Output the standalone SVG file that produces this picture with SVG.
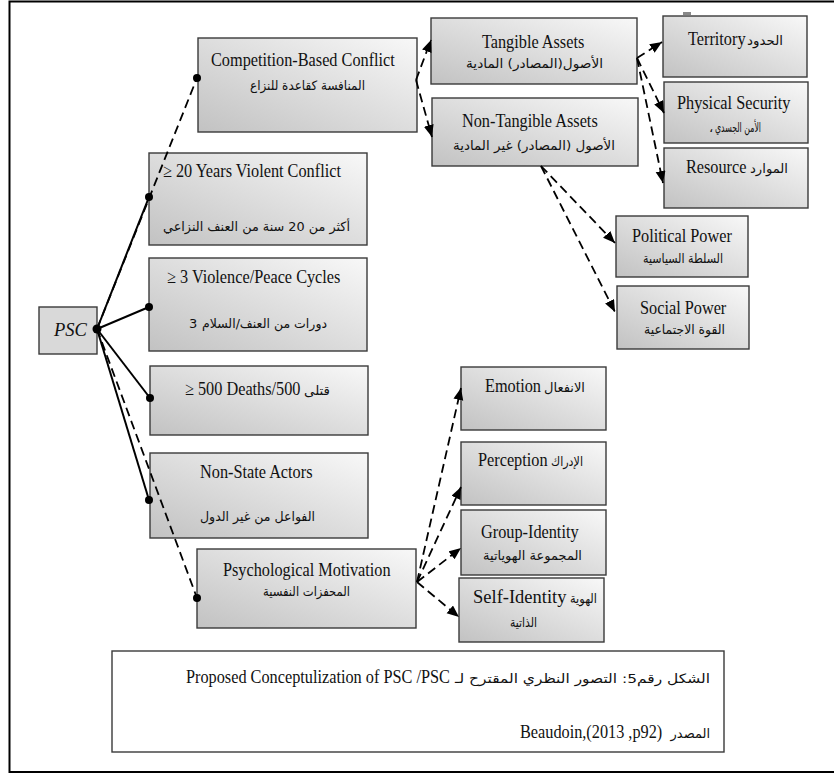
<svg xmlns="http://www.w3.org/2000/svg" width="834" height="773" viewBox="0 0 834 773">
<defs>
<linearGradient id="g" x1="1" y1="0" x2="0" y2="1">
<stop offset="0" stop-color="#f8f8f8"/>
<stop offset="1" stop-color="#c2c2c2"/>
</linearGradient>
<marker id="ah" markerUnits="userSpaceOnUse" markerWidth="13" markerHeight="11" refX="12" refY="5" orient="auto">
<path d="M0,0 L12,5 L0,10 z" fill="#000"/>
</marker>
<style>
.box{fill:url(#g);stroke:#3a3a3a;stroke-width:1.4}
.plain{fill:#fff;stroke:#3a3a3a;stroke-width:1.4}
.en{font-family:"Liberation Serif","DejaVu Serif",serif;font-size:18.5px;fill:#111}
.ar{font-family:"DejaVu Sans","Liberation Serif",sans-serif;font-size:13px;fill:#111}
.solid{stroke:#000;stroke-width:2;fill:none}
.dash{stroke:#000;stroke-width:1.8;stroke-dasharray:9 5;fill:none}
.arr{marker-end:url(#ah)}
.dot{fill:#000}
</style>
</defs>

<path d="M834,1.5 H9.5 V772 H834" fill="none" stroke="#000" stroke-width="2"/>
<rect x="683" y="12" width="8" height="3" fill="#888"/>

<g id="psc">
<rect x="39" y="307" width="58" height="47" fill="#d9d9d9" stroke="#3a3a3a" stroke-width="1.4"/>
<text x="54" y="336" class="en" font-size="16" font-style="italic" fill="#1c2440">PSC</text>
</g>

<g id="competition">
<rect class="box" x="198" y="38" width="219" height="94"/>
<text class="en" transform="scale(0.88,1)" x="239.8" y="66">Competition-Based Conflict</text>
<text class="ar" x="250" y="90" textLength="115" lengthAdjust="spacingAndGlyphs">المنافسة كقاعدة للنزاع</text>
</g>

<g id="tangible">
<rect class="box" x="431" y="18" width="206" height="66"/>
<text class="en" transform="scale(0.88,1)" x="547.7" y="48">Tangible Assets</text>
<text class="ar" x="466" y="68" textLength="137" lengthAdjust="spacingAndGlyphs">الأصول(المصادر)  المادية</text>
</g>

<g id="nontangible">
<rect class="box" x="432" y="98" width="206" height="68"/>
<text class="en" transform="scale(0.88,1)" x="525" y="127">Non-Tangible Assets</text>
<text class="ar" x="453" y="150" textLength="162" lengthAdjust="spacingAndGlyphs">الأصول (المصادر) غير المادية</text>
</g>

<g id="territory">
<rect class="box" x="663" y="16" width="144" height="61"/>
<text class="en" transform="scale(0.88,1)" x="781.8" y="45">Territory</text>
<text class="ar" x="747" y="45" textLength="36" lengthAdjust="spacingAndGlyphs">الحدود</text>
</g>

<g id="physical">
<rect class="box" x="664" y="82" width="144" height="61"/>
<text class="en" transform="scale(0.88,1)" x="769.3" y="109">Physical Security</text>
<text class="ar" x="709" y="132" font-size="11">،</text>
<text class="ar" x="715" y="132" font-size="11" textLength="46" lengthAdjust="spacingAndGlyphs">الأمن الجسدي</text>
</g>

<g id="resource">
<rect class="box" x="664" y="148" width="144" height="60"/>
<text class="en" transform="scale(0.88,1)" x="779.5" y="173">Resource</text>
<text class="ar" x="750" y="173" textLength="38" lengthAdjust="spacingAndGlyphs">الموارد</text>
</g>

<g id="years20">
<rect class="box" x="149" y="153" width="218" height="92"/>
<text class="en" transform="scale(0.88,1)" x="185.2" y="177">≥ 20 Years Violent Conflict</text>
<text class="ar" x="163" y="231" textLength="187" lengthAdjust="spacingAndGlyphs">أكثر من 20 سنة من العنف النزاعي</text>
</g>

<g id="cycles">
<rect class="box" x="149" y="258" width="218" height="93"/>
<text class="en" transform="scale(0.88,1)" x="189.8" y="283">≥ 3 Violence/Peace Cycles</text>
<text class="ar" x="189" y="328">3</text>
<text class="ar" x="202" y="328" textLength="125" lengthAdjust="spacingAndGlyphs">دورات من العنف/السلام</text>
</g>

<g id="deaths">
<rect class="box" x="150" y="366" width="218" height="69"/>
<text class="en" transform="scale(0.88,1)" x="210.2" y="395">≥ 500 Deaths/500</text>
<text class="ar" x="304" y="395" textLength="26" lengthAdjust="spacingAndGlyphs">قتلى</text>
</g>

<g id="nonstate">
<rect class="box" x="150" y="453" width="218" height="85"/>
<text class="en" transform="scale(0.88,1)" x="227.3" y="478">Non-State Actors</text>
<text class="ar" x="200" y="521" textLength="115" lengthAdjust="spacingAndGlyphs">الفواعل من غير الدول</text>
</g>

<g id="psychological">
<rect class="box" x="197" y="549" width="219" height="79"/>
<text class="en" transform="scale(0.88,1)" x="253.4" y="576">Psychological Motivation</text>
<text class="ar" x="263" y="596" textLength="87" lengthAdjust="spacingAndGlyphs">المحفزات النفسية</text>
</g>

<g id="political">
<rect class="box" x="616" y="216" width="132" height="61"/>
<text class="en" transform="scale(0.88,1)" x="718.2" y="242">Political Power</text>
<text class="ar" x="643" y="263" textLength="80" lengthAdjust="spacingAndGlyphs">السلطة السياسية</text>
</g>

<g id="social">
<rect class="box" x="617" y="286" width="132" height="63"/>
<text class="en" transform="scale(0.88,1)" x="727.3" y="314">Social Power</text>
<text class="ar" x="644" y="334" textLength="81" lengthAdjust="spacingAndGlyphs">القوة الاجتماعية</text>
</g>

<g id="emotion">
<rect class="box" x="461" y="367" width="145" height="63"/>
<text class="en" transform="scale(0.88,1)" x="551.1" y="392">Emotion</text>
<text class="ar" x="544" y="392" textLength="41" lengthAdjust="spacingAndGlyphs">الانفعال</text>
</g>

<g id="perception">
<rect class="box" x="461" y="442" width="145" height="63"/>
<text class="en" transform="scale(0.88,1)" x="543.2" y="466">Perception</text>
<text class="ar" x="551" y="466" textLength="32" lengthAdjust="spacingAndGlyphs">الإدراك</text>
</g>

<g id="groupidentity">
<rect class="box" x="461" y="510" width="145" height="65"/>
<text class="en" transform="scale(0.88,1)" x="546.6" y="538">Group-Identity</text>
<text class="ar" x="483" y="560" textLength="99" lengthAdjust="spacingAndGlyphs">المجموعة الهوياتية</text>
</g>

<g id="selfidentity">
<rect class="box" x="459" y="578" width="145" height="64"/>
<text class="en" x="473" y="603">Self-Identity</text>
<text class="ar" x="570" y="603" textLength="27" lengthAdjust="spacingAndGlyphs">الهوية</text>
<text class="ar" x="510" y="627" textLength="27" lengthAdjust="spacingAndGlyphs">الذاتية</text>
</g>

<g id="caption">
<rect class="plain" x="112" y="651" width="612" height="101"/>
<text class="en" transform="scale(0.88,1)" x="211.4" y="683">Proposed Conceptulization of PSC /PSC</text>
<text class="ar" x="455" y="683" font-size="15.5" textLength="255" lengthAdjust="spacingAndGlyphs">الشكل رقم5: التصور النظري المقترح لـ</text>
<text class="en" transform="scale(0.88,1)" x="590.9" y="738">Beaudoin,(2013 ,p92)</text>
<text class="ar" x="710" y="738" font-size="14" text-anchor="end">المصدر</text>
</g>

<g id="connectors">
<line class="solid" x1="97" y1="329" x2="149" y2="197"/>
<line class="solid" x1="97" y1="329" x2="149" y2="307"/>
<line class="solid" x1="97" y1="329" x2="150" y2="398"/>
<line class="solid" x1="97" y1="329" x2="149" y2="500"/>
<line class="dash" x1="97" y1="329" x2="197" y2="78"/>
<line class="dash" x1="97" y1="329" x2="197" y2="598"/>
<line class="dash arr" x1="416" y1="80" x2="431" y2="40"/>
<line class="dash arr" x1="416" y1="80" x2="432" y2="137"/>
<line class="dash arr" x1="637" y1="58" x2="662" y2="42"/>
<line class="dash arr" x1="637" y1="58" x2="664" y2="113"/>
<line class="dash arr" x1="637" y1="58" x2="663" y2="183"/>
<line class="dash arr" x1="541" y1="166" x2="615" y2="243"/>
<line class="dash arr" x1="541" y1="166" x2="615" y2="312"/>
<line class="dash arr" x1="417" y1="582" x2="461" y2="388"/>
<line class="dash arr" x1="417" y1="582" x2="461" y2="487"/>
<line class="dash arr" x1="417" y1="582" x2="461" y2="548"/>
<line class="dash arr" x1="417" y1="582" x2="459" y2="617"/>
<circle class="dot" cx="97" cy="329" r="4.5"/>
<circle class="dot" cx="149" cy="197" r="4"/>
<circle class="dot" cx="149" cy="307" r="4"/>
<circle class="dot" cx="150" cy="398" r="4"/>
<circle class="dot" cx="149" cy="500" r="4"/>
<circle class="dot" cx="197" cy="78" r="4"/>
<circle class="dot" cx="197" cy="598" r="4"/>
</g>
</svg>
